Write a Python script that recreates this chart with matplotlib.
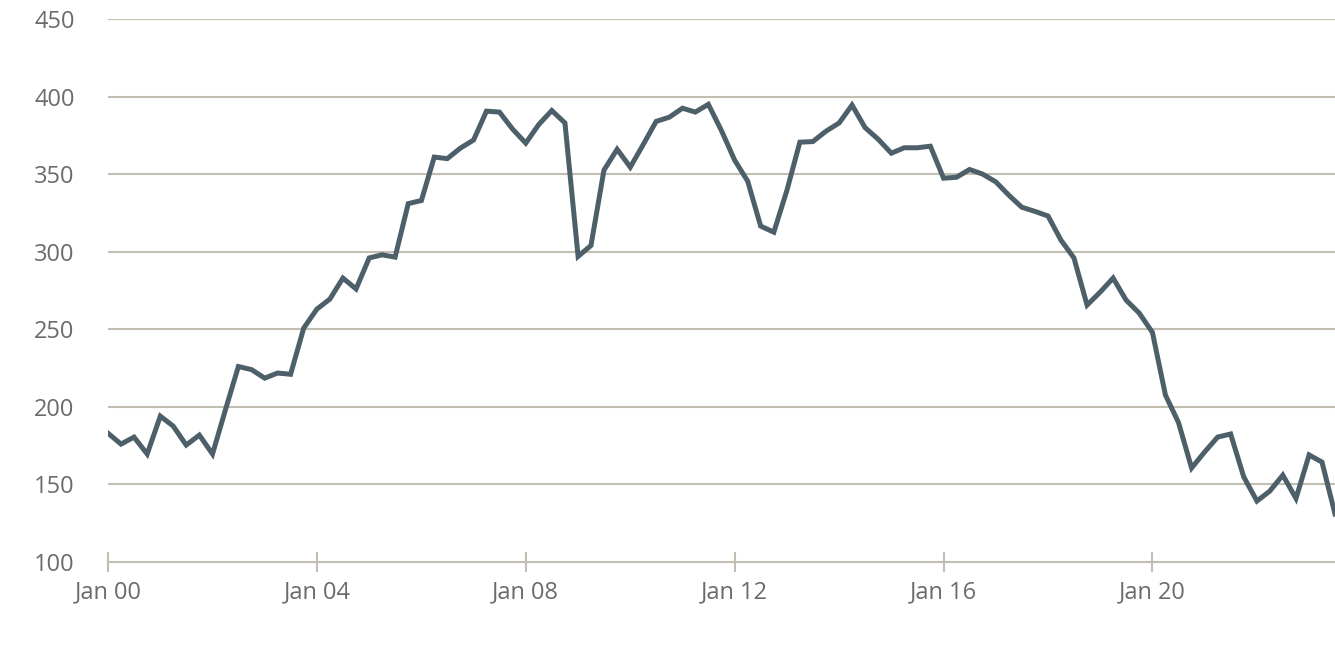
import matplotlib.pyplot as plt
import pandas as pd
import matplotlib.dates as mdates

# quarterly values, Q1 2000 .. Q3 2023
values = [
    183, 176, 180.5, 169.6, 194, 187.6, 175.4, 181.8, 169.6, 198,
    226, 224, 218.5, 221.8, 221, 250.8, 263, 269.5, 283, 276,
    296, 298, 296.5, 331, 333, 361, 360, 366.8, 372, 390.6,
    390, 379, 370, 382, 391, 383, 297, 304, 352.6, 366,
    354.5, 369, 384, 386.7, 392.5, 390, 395, 378, 359, 345.5,
    316.5, 312.6, 339.7, 370.6, 371, 377.7, 383, 394.5, 380, 372.5,
    363.5, 367, 367, 368, 347.4, 348, 353, 350, 345, 336.5,
    328.7, 326, 323, 307.5, 296, 265.6, 274, 283, 268.8, 260.4,
    248, 207.6, 190, 160.6, 171, 180.5, 182.5, 154.8, 139.3, 145.7,
    156, 141, 169, 164.4, 131,
]
dates = pd.date_range("2000-01-01", periods=len(values), freq="QS")
y_ticks = [100, 150, 200, 250, 300, 350, 400, 450]

plt.rcParams["font.family"] = ["Open Sans", "DejaVu Sans"]

grid_col = "#c3beb2"
text_col = "#6b6b6b"

fig = plt.figure(figsize=(13.35, 6.46), dpi=100)
ax = fig.add_axes([108 / 1335, 1 - 562 / 646, (1335 - 108) / 1335, (562 - 19) / 646])

ax.plot(dates, values, color="#4d5f69", linewidth=3.6, solid_joinstyle="miter", zorder=3)

ax.set_ylim(100, 450)
ax.set_xlim(dates[0], dates[-1])
ax.set_yticks(y_ticks)
for y in y_ticks[1:]:
    ax.axhline(y, color=grid_col, linewidth=1.5, zorder=1)

ax.xaxis.set_major_locator(mdates.YearLocator(4))
ax.xaxis.set_major_formatter(mdates.DateFormatter("Jan %y"))

for side in ["top", "right", "left"]:
    ax.spines[side].set_visible(False)
ax.spines["bottom"].set_color(grid_col)
ax.spines["bottom"].set_linewidth(1.5)

ax.tick_params(axis="y", length=0, pad=24, labelsize=17, labelcolor=text_col)
ax.tick_params(axis="x", direction="inout", length=14, width=1.5, color=grid_col,
               pad=6, labelsize=17, labelcolor=text_col)

fig.savefig("out.png", dpi=100)
